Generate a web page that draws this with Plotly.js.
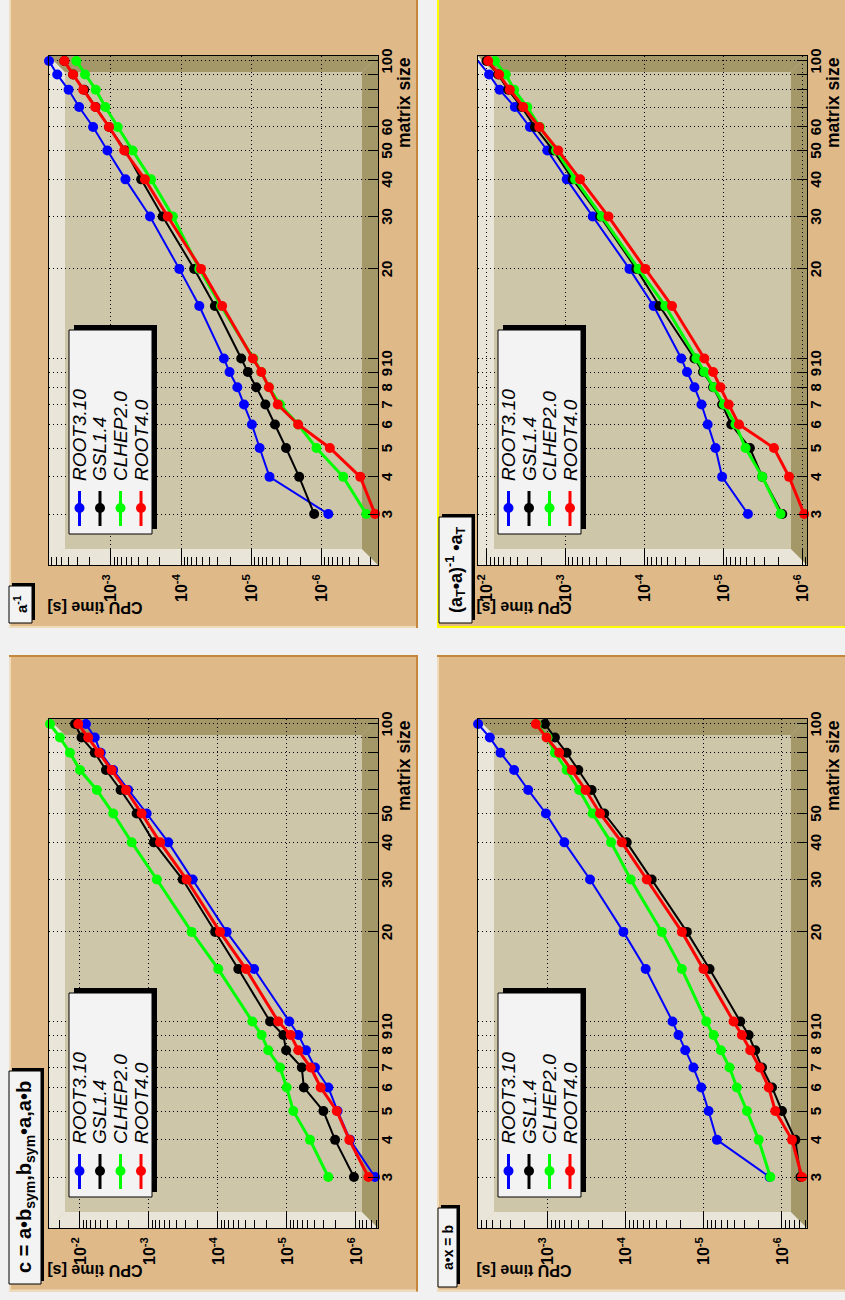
<!DOCTYPE html>
<html><head><meta charset="utf-8">
<script src="https://cdn.plot.ly/plotly-3.0.1.min.js"></script>
<style>
html,body{margin:0;padding:0;width:845px;height:1300px;overflow:hidden;background:#f1f1f1;}
#wrap{position:absolute;left:0;top:0;width:1300px;height:845px;transform-origin:0 0;transform:translateY(1300px) rotate(-90deg);}
#chart{width:1300px;height:845px;}
</style></head><body><div id="wrap"><div id="chart"></div></div>
<script>
// ---------------- data ----------------
const matrixSize = [3,4,5,6,7,8,9,10,15,20,30,40,50,60,70,80,90,100];
const seriesNames = ['ROOT3.10','GSL1.4','CLHEP2.0','ROOT4.0'];
const seriesColors = ['#0000ff','#000000','#00ff00','#ff0000'];
const seriesWidths = [2,2,3,3];

// panel: c = a•b_sym, b_sym•a, a•b
const mult_ROOT310 = [5.3e-7,1.22e-6,1.85e-6,2.52e-6,3.93e-6,5.3e-6,6.85e-6,9.25e-6,3.0e-5,7.5e-5,2.33e-4,5.25e-4,1.08e-3,2.0e-3,3.3e-3,5.0e-3,6.1e-3,8.2e-3];
const mult_GSL14   = [1.07e-6,2.01e-6,2.97e-6,5.7e-6,6.1e-6,1.03e-5,1.13e-5,1.76e-5,5.07e-5,1.1e-4,3.25e-4,8.5e-4,1.51e-3,2.58e-3,4.2e-3,6.1e-3,9.5e-3,1.18e-2];
const mult_CLHEP20 = [2.52e-6,4.64e-6,8.1e-6,1.01e-5,1.26e-5,1.87e-5,2.33e-5,3.18e-5,9.9e-5,2.41e-4,7.7e-4,1.78e-3,3.3e-3,5.7e-3,1.0e-2,1.4e-2,1.95e-2,2.72e-2];
const mult_ROOT40  = [6.6e-7,1.25e-6,1.9e-6,3.25e-6,4.54e-6,6.85e-6,8.85e-6,1.34e-5,3.93e-5,9.35e-5,2.85e-4,6.9e-4,1.28e-3,2.15e-3,3.48e-3,5.25e-3,7.6e-3,1.06e-2];

// panel: a^-1
const inv_ROOT310 = [8.0e-7,5.5e-6,7.6e-6,9.8e-6,1.27e-5,1.58e-5,2.04e-5,2.46e-5,5.5e-5,1.06e-4,2.77e-4,6.2e-4,1.12e-3,1.79e-3,2.83e-3,4.0e-3,5.8e-3,7.6e-3];
const inv_GSL14   = [1.27e-6,2.08e-6,3.2e-6,4.6e-6,6.3e-6,8.5e-6,1.12e-5,1.39e-5,3.3e-5,6.5e-5,1.83e-4,3.7e-4,6.2e-4,1.06e-3,1.64e-3,2.4e-3,3.45e-3,4.6e-3];
const inv_CLHEP20 = [2.3e-7,4.9e-7,1.18e-6,2.15e-6,3.9e-6,5.6e-6,7.2e-6,9.3e-6,2.7e-5,5.5e-5,1.31e-4,2.68e-4,4.9e-4,8.0e-4,1.2e-3,1.64e-3,2.33e-3,3.1e-3];
const inv_ROOT40  = [1.73e-7,2.8e-7,7.6e-7,2.15e-6,4.2e-6,5.6e-6,7.2e-6,9.5e-6,2.6e-5,5.2e-5,1.55e-4,3.27e-4,6.45e-4,1.06e-3,1.67e-3,2.48e-3,3.45e-3,4.6e-3];

// panel: a•x = b
const solve_ROOT310 = [1.44e-6,6.8e-6,8.7e-6,1.08e-5,1.36e-5,1.73e-5,2.11e-5,2.52e-5,5.55e-5,1.07e-4,2.86e-4,6.1e-4,1.05e-3,1.77e-3,2.68e-3,4.0e-3,5.48e-3,7.74e-3];
const solve_GSL14   = [5.8e-7,6.75e-7,1.0e-6,1.34e-6,1.8e-6,2.2e-6,2.67e-6,3.42e-6,8.45e-6,1.65e-5,4.65e-5,9.7e-5,1.88e-4,2.73e-4,4.04e-4,5.7e-4,8.05e-4,1.08e-3];
const solve_CLHEP20 = [1.41e-6,1.99e-6,2.81e-6,3.78e-6,4.69e-6,6.05e-6,7.5e-6,9.33e-6,1.91e-5,3.45e-5,8.63e-5,1.54e-4,2.65e-4,3.93e-4,5.7e-4,8.05e-4,1.0e-3,1.38e-3];
const solve_ROOT40  = [5.55e-7,7.45e-7,1.22e-6,1.48e-6,1.93e-6,2.55e-6,3.26e-6,4.17e-6,1.01e-5,1.91e-5,5.38e-5,1.12e-4,2.13e-4,3.26e-4,4.92e-4,7.1e-4,1.03e-3,1.41e-3];

// panel: (aT•a)^-1•aT
const pinv_ROOT310 = [4.85e-6,1.03e-5,1.25e-5,1.57e-5,1.88e-5,2.31e-5,2.87e-5,3.39e-5,7.6e-5,1.54e-4,4.5e-4,9.6e-4,1.69e-3,2.81e-3,4.37e-3,6.8e-3,9.25e-3,1.28e-2];
const pinv_GSL14   = [1.78e-6,3.19e-6,4.58e-6,7.9e-6,1.03e-5,1.34e-5,1.8e-5,2.31e-5,6.4e-5,1.26e-4,3.62e-4,8.07e-4,1.42e-3,2.43e-3,3.59e-3,5.3e-3,7.1e-3,1.0e-2];
const pinv_CLHEP20 = [1.87e-6,3.19e-6,5.2e-6,6.97e-6,9.8e-6,1.31e-5,1.73e-5,2.18e-5,5.4e-5,1.18e-4,3.45e-4,7.5e-4,1.31e-3,2.1e-3,3.04e-3,4.45e-3,5.7e-3,7.8e-3];
const pinv_ROOT40  = [9.4e-7,1.46e-6,2.27e-6,6.3e-6,8.5e-6,1.08e-5,1.34e-5,1.73e-5,4.45e-5,9.7e-5,2.84e-4,6.5e-4,1.23e-3,2.14e-3,3.42e-3,5.05e-3,6.9e-3,9.5e-3];

// tick labels and texts
const xLabelVals = [3,4,5,6,7,8,9,10,20,30,40,50,100];
const xLabelValsWith60 = [3,4,5,6,7,8,9,10,20,30,40,50,60,100];
const xGridOnlyVals = [60,70,80,90];
const xGridOnlyValsWith60 = [70,80,90];
const yTickVals = [1e-7,1e-6,1e-5,1e-4,1e-3,1e-2,1e-1];
const yTickText = ['10<sup>-7</sup>','10<sup>-6</sup>','10<sup>-5</sup>','10<sup>-4</sup>','10<sup>-3</sup>','10<sup>-2</sup>','10<sup>-1</sup>'];
const panelTitles = ['c = a•b<sub>sym</sub>,b<sub>sym</sub>•a,a•b','a<sup>-1</sup>','a•x = b','(a<sub>T</sub>•a)<sup>-1</sup> •a<sub>T</sub>'];
const xTitle = 'matrix size';
const yTitle = 'CPU time [s]';

// ---------------- geometry (unrotated canvas pixels) ----------------
const W = 1300, H = 845;
const FONT = 'Liberation Sans, Arial, Helvetica, sans-serif';
const C_PAD = '#dfb988', C_FRAME = '#cdc6a9', C_LIGHT = '#e9e6d9', C_DARK = '#a59868';
const C_PADDARK = '#c4873c', C_PADLIGHT = '#efdcbc', C_BOX = '#f3f3f3';
const BEV = 16;
const panels = [
  {ax:'',  series:[mult_ROOT310,mult_GSL14,mult_CLHEP20,mult_ROOT40],   pad:[8.5,9,645,418],  frame:[72,49,581,378],   ylog:[-6.319,-1.551], with60:false, title:0, tbox:[16,9,229,41],   tsize:20, sel:false},
  {ax:'2', series:[inv_ROOT310,inv_GSL14,inv_CLHEP20,inv_ROOT40],       pad:[672,9,1310,418], frame:[735,49,1244,378], ylog:[-6.805,-2.119], with60:true,  title:1, tbox:[677,9,714,32],  tsize:15, sel:false},
  {ax:'3', series:[solve_ROOT310,solve_GSL14,solve_CLHEP20,solve_ROOT40],pad:[8.5,437,645,855],frame:[72,478,581,807], ylog:[-6.320,-2.110], with60:false, title:2, tbox:[13,438,92,457], tsize:14, sel:false},
  {ax:'4', series:[pinv_ROOT310,pinv_GSL14,pinv_CLHEP20,pinv_ROOT40],   pad:[672,437,1310,855],frame:[735,478,1244,807],ylog:[-6.063,-1.893], with60:true,  title:3, tbox:[677,439,783,472],tsize:18, sel:true}
];
const xLogRange = [0.3057, 2.0167];
const X = v => v / W, Y = v => 1 - v / H, P = (x, y) => X(x) + ',' + Y(y);
const yMinor = [];
for (let k = -8; k <= -1; k++) for (let d = 2; d <= 9; d++) yMinor.push(d * Math.pow(10, k));

const data = [], shapes = [], annotations = [];
const layout = {width:W, height:H, margin:{l:0,r:0,t:0,b:0}, paper_bgcolor:'#f1f1f1', plot_bgcolor:'rgba(0,0,0,0)',
  showlegend:false, hovermode:false, font:{family:FONT, color:'#000'}, shapes:shapes, annotations:annotations};

function rect(x0,y0,x1,y1,fill,layer,line){shapes.push({type:'rect',xref:'paper',yref:'paper',x0:X(x0),x1:X(x1),y0:Y(y1),y1:Y(y0),fillcolor:fill,line:line||{width:0},layer:layer});}
function seg(x0,y0,x1,y1,color,w,layer){shapes.push({type:'line',xref:'paper',yref:'paper',x0:X(x0),x1:X(x1),y0:Y(y0),y1:Y(y1),line:{color:color,width:w},layer:layer});}
function poly(pts,fill){shapes.push({type:'path',xref:'paper',yref:'paper',layer:'below',fillcolor:fill,line:{width:0},path:'M'+pts.map(p=>P(p[0],p[1])).join('L')+'Z'});}

panels.forEach(p => {
  const [pl,pt,pr,pb] = p.pad, [fl,ft,fr,fb] = p.frame;
  // pad with raised border
  rect(pl,pt,pr,pb,C_PAD,'below');
  const hi = p.sel ? '#ffff00' : C_PADLIGHT;
  seg(pl,pt+1,pr,pt+1,hi,2,'below'); seg(pl+1,pt,pl+1,pb,hi,2,'below');
  seg(pl,pb-1,pr,pb-1,C_PADDARK,2,'below'); seg(pr-1,pt,pr-1,pb,C_PADDARK,2,'below');
  // frame with bevel
  rect(fl,ft,fr,fb,C_FRAME,'below');
  poly([[fl,ft],[fr,ft],[fr-BEV,ft+BEV],[fl+BEV,ft+BEV]],C_LIGHT);
  poly([[fl,ft],[fl+BEV,ft+BEV],[fl+BEV,fb-BEV],[fl,fb]],C_LIGHT);
  poly([[fl,fb],[fl+BEV,fb-BEV],[fr-BEV,fb-BEV],[fr,fb]],C_DARK);
  poly([[fr,ft],[fr,fb],[fr-BEV,fb-BEV],[fr-BEV,ft+BEV]],C_DARK);

  const common = {type:'log', showline:true, linecolor:'#000', linewidth:1, mirror:true, zeroline:false,
    ticks:'inside', tickcolor:'#000', tickwidth:1, showgrid:true, gridcolor:'#000', gridwidth:1, griddash:'1px,3px',
    tickangle:0, fixedrange:true};
  const ymin = Math.pow(10,p.ylog[0]), ymax = Math.pow(10,p.ylog[1]);
  const inY = yTickVals.map((v,i)=>i).filter(i => yTickVals[i] >= ymin && yTickVals[i] <= ymax);
  const xl = p.with60 ? xLabelValsWith60 : xLabelVals;
  layout['xaxis'+p.ax] = Object.assign({}, common, {domain:[X(fl),X(fr)], range:xLogRange, anchor:'y'+p.ax,
    tickmode:'array', tickvals:xl, ticktext:xl.map(String), ticklen:10, ticklabelstandoff:-5,
    tickfont:{family:FONT, size:15, color:'#000', weight:'bold'},
    minor:{tickmode:'array', tickvals:p.with60 ? xGridOnlyValsWith60 : xGridOnlyVals, ticks:'inside', ticklen:10, tickcolor:'#000', tickwidth:1,
      showgrid:true, gridcolor:'#000', gridwidth:1, griddash:'1px,3px'}});
  layout['yaxis'+p.ax] = Object.assign({}, common, {domain:[Y(fb),Y(ft)], range:p.ylog, anchor:'x'+p.ax,
    tickmode:'array', tickvals:inY.map(i=>yTickVals[i]), ticktext:inY.map(i=>yTickText[i]), ticklen:16, ticklabelstandoff:5,
    tickfont:{family:FONT, size:16, color:'#000', weight:'bold'},
    minor:{tickmode:'array', tickvals:yMinor, ticks:'inside', ticklen:8, tickcolor:'#000', tickwidth:1, showgrid:false}});

  p.series.forEach((vals,i) => data.push({type:'scatter', mode:'lines+markers', x:matrixSize, y:vals,
    xaxis:'x'+p.ax, yaxis:'y'+p.ax, name:seriesNames[i], line:{color:seriesColors[i], width:seriesWidths[i]},
    marker:{color:seriesColors[i], size:10, symbol:'circle'}, cliponaxis:false, hoverinfo:'skip'}));

  // axis titles (ROOT style: aligned to the axis end)
  annotations.push({xref:'paper',yref:'paper',x:X(fr+1),y:Y(fb+26),xanchor:'right',yanchor:'middle',text:xTitle,showarrow:false,
    font:{family:FONT,size:17.5,color:'#000',weight:'bold'}});
  annotations.push({xref:'paper',yref:'paper',x:X(fl-42),y:Y(ft-3),xanchor:'center',yanchor:'top',text:yTitle,textangle:-90,showarrow:false,
    font:{family:FONT,size:16,color:'#000',weight:'bold'}});

  // legend box with shadow
  const L = fl+31, T = ft+20, R = fl+235, B = ft+103;
  rect(L+5,T+5,R+5,B+5,'#000','above');
  rect(L,T,R,B,C_BOX,'above',{color:'#000',width:1});
  seriesNames.forEach((nm,i) => {
    const row = T+10.5+i*20.5;
    seg(L+8,row,L+43,row,seriesColors[i],3,'above');
    shapes.push({type:'circle',xref:'paper',yref:'paper',layer:'above',x0:X(L+21),x1:X(L+31),y0:Y(row+5),y1:Y(row-5),fillcolor:seriesColors[i],line:{width:0}});
    annotations.push({xref:'paper',yref:'paper',x:X(L+51),y:Y(row),xanchor:'left',yanchor:'middle',text:'<i>'+nm+'</i>',showarrow:false,
      font:{family:FONT,size:19,color:'#000'}});
  });

  // pad title box with shadow
  const [bl,bt,br,bb] = p.tbox;
  rect(bl+3,bt+3,br+3,bb+3,'#000','above');
  rect(bl,bt,br,bb,C_BOX,'above',{color:'#000',width:1});
  annotations.push({xref:'paper',yref:'paper',x:X((bl+br)/2),y:Y((bt+bb)/2),xanchor:'center',yanchor:'middle',text:panelTitles[p.title],showarrow:false,
    font:{family:FONT,size:p.tsize,color:'#000',weight:'bold'}});
});

Plotly.newPlot('chart', data, layout, {staticPlot:true, displayModeBar:false});
</script></body></html>
